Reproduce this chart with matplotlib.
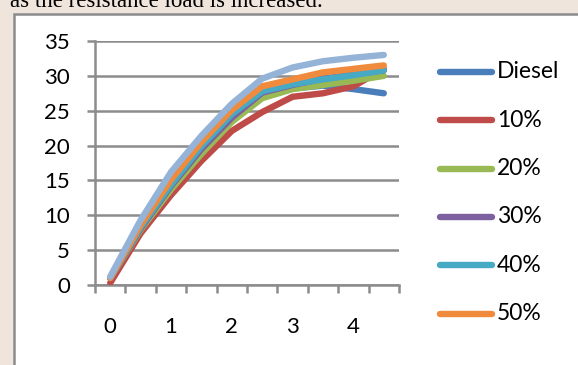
import matplotlib.pyplot as plt
from matplotlib.patches import Rectangle
from matplotlib.lines import Line2D

# load steps (category axis, labels every second step)
x = [0, 0.5, 1, 1.5, 2, 2.5, 3, 3.5, 4, 4.5]

diesel = [1.0, 8.0, 14.0, 19.5, 24.0, 27.5, 28.2, 28.6, 28.1, 27.5]
b10 = [0.3, 7.4, 12.9, 17.8, 22.1, 24.8, 27.0, 27.5, 28.5, 31.0]
b20 = [1.0, 7.9, 13.7, 18.8, 23.4, 26.8, 28.1, 28.7, 29.3, 30.0]
b30 = [1.0, 8.1, 14.2, 19.5, 24.0, 27.6, 28.7, 29.6, 30.2, 30.8]
b40 = [1.0, 8.3, 14.4, 19.9, 24.5, 27.8, 28.8, 29.5, 30.1, 30.8]
b50 = [1.0, 8.6, 15.1, 20.5, 25.1, 28.5, 29.5, 30.5, 31.0, 31.5]
b60 = [1.2, 9.3, 16.2, 21.4, 26.0, 29.6, 31.2, 32.1, 32.6, 33.0]

labels = ["Diesel", "10%", "20%", "30%", "40%", "50%", None]
series = [diesel, b10, b20, b30, b40, b50, b60]
colors = ["#4A7EBB", "#BE4B48", "#98B954", "#7D60A0", "#46AAC5", "#F08A3C", "#95B3D7"]

plt.rcParams['font.family'] = ['Lato', 'DejaVu Sans']

W, H = 578, 365
fig = plt.figure(figsize=(W / 100, H / 100), dpi=100)
fig.patch.set_facecolor("#EFE5DD")

# white chart area with grey frame
fig.add_artist(Rectangle((13.5 / W, -0.1), 1.0, 1.1 - 13.5 / H, transform=fig.transFigure,
                         facecolor="white", edgecolor="#8C8C8C", linewidth=1.8, zorder=0))

# caption line from the page above (cut off)
fig.text(10 / W, 1 - 7 / H, "as the resistance load is increased.", family="Liberation Serif",
         fontsize=16.5, va="baseline", ha="left", color="black")

ax = fig.add_axes([95 / W, (H - 285) / H, 304 / W, 244 / H])
ax.set_facecolor("none")

for vals, c in zip(series, colors):
    ax.plot(x, vals, color=c, linewidth=4.6, solid_capstyle="round", solid_joinstyle="round", zorder=3)

ax.set_xlim(-0.25, 4.75)
ax.set_ylim(0, 35)
ax.set_yticks(range(0, 36, 5))
ax.set_xticks([-0.25 + 0.5 * i for i in range(11)])
ax.set_xticklabels([])
ax.set_xticks([0, 1, 2, 3, 4], minor=True)
ax.set_xticklabels(["0", "1", "2", "3", "4"], minor=True)

ax.grid(axis="y", color="#8C8C8C", linewidth=1.8, zorder=1)
for s in ["top", "right"]:
    ax.spines[s].set_visible(False)
for s in ["left", "bottom"]:
    ax.spines[s].set_color("#8C8C8C")
    ax.spines[s].set_linewidth(1.8)

ax.tick_params(axis="y", length=6, width=1.8, color="#8C8C8C", pad=12, labelsize=16)
ax.tick_params(axis="x", which="major", length=6, width=1.8, color="#8C8C8C")
ax.tick_params(axis="x", which="minor", length=0, pad=23, labelsize=16)

# legend, drawn by hand in pixel positions
for i, (lab, c) in enumerate(zip(labels, colors)):
    if lab is None:
        continue
    yy = 1 - (72 + 48.3 * i) / H
    fig.add_artist(Line2D([440 / W, 492 / W], [yy, yy], transform=fig.transFigure, color=c,
                          linewidth=4.6, solid_capstyle="round"))
    fig.text(497 / W, yy, lab, fontsize=16.5, va="center", ha="left")

fig.savefig("out.png", dpi=100, facecolor=fig.get_facecolor())
